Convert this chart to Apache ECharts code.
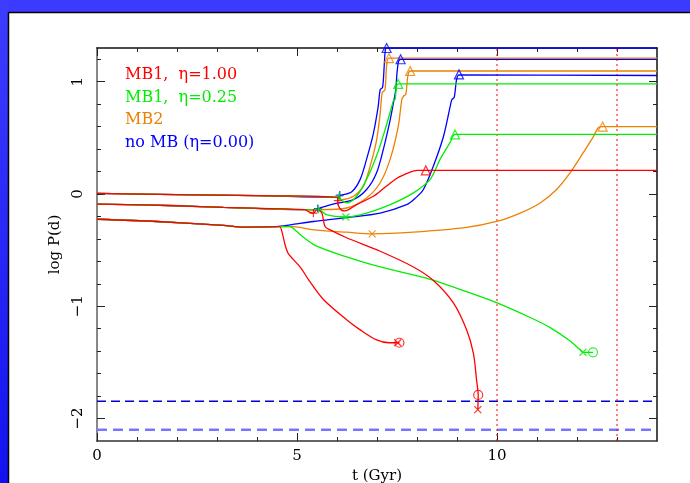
<!DOCTYPE html>
<html><head><meta charset="utf-8">
<script src="https://cdn.jsdelivr.net/npm/echarts@6/dist/echarts.min.js"></script>
<style>html,body{margin:0;padding:0;background:#fff}#c{width:690px;height:483px}</style>
</head><body><div id="c"></div>
<script>
// ---- data: [t (Gyr), log P(d)] ----
const baseTop = [[0,0.005],[2,-0.005],[4,-0.015],[6.0,-0.03]];
const baseMid = [[0,-0.09],[2,-0.105],[3.16,-0.12],[5.2,-0.14]];
const baseBot = [[0,-0.225],[1.5,-0.245],[3.16,-0.28],[3.66,-0.295],[4.5,-0.29]];

const blueTop = [[6.08,-0.015],[6.37,0.02],[6.58,0.13],[6.74,0.31],[6.91,0.54],[7.03,0.78],[7.08,0.93],[7.14,0.95],[7.18,1.14],[7.21,1.29],[7.24,1.30],[14,1.30]];
const orangeTop = [[6.12,-0.05],[6.41,-0.02],[6.66,0.07],[6.83,0.25],[6.99,0.48],[7.08,0.72],[7.13,0.90],[7.2,0.93],[7.24,1.14],[7.3,1.21],[14,1.21]];
const greenTop = [[6.24,-0.08],[6.49,-0.02],[6.74,0.13],[6.99,0.34],[7.2,0.57],[7.37,0.78],[7.41,0.83],[7.45,0.84],[7.49,0.96],[7.53,0.98],[14,0.98]];
const redTop = [[6.03,-0.10],[6.12,-0.146],[6.2,-0.15],[6.49,-0.095],[6.91,-0.02],[7.2,0.06],[7.5,0.14],[7.8,0.19],[8.0,0.21],[8.22,0.21],[14,0.21]];

const blueMid = [[5.45,-0.14],[5.53,-0.13],[5.9,-0.09],[6.41,-0.05],[6.74,0.04],[6.99,0.19],[7.16,0.40],[7.33,0.66],[7.41,0.81],[7.47,0.93],[7.51,1.11],[7.59,1.20],[14,1.20]];
const orangeMid = [[5.45,-0.14],[5.6,-0.14],[6.24,-0.125],[6.74,-0.035],[7.08,0.10],[7.33,0.31],[7.53,0.60],[7.62,0.84],[7.66,0.87],[7.72,0.89],[7.77,1.05],[7.83,1.095],[14,1.095]];
const greenMid = [[5.45,-0.145],[5.53,-0.135],[5.74,-0.185],[6.22,-0.205],[6.74,-0.17],[7.33,-0.095],[7.91,0.01],[8.33,0.13],[8.58,0.31],[8.83,0.46],[8.95,0.53],[14,0.53]];
const redMid = [[5.3,-0.16],[5.41,-0.17],[5.5,-0.14],[5.62,-0.17],[5.7,-0.29],[5.83,-0.32],[6.24,-0.39],[7.08,-0.51],[7.91,-0.65],[8.41,-0.77],[8.91,-0.97],[9.24,-1.21],[9.41,-1.42],[9.49,-1.66],[9.53,-1.79],[9.52,-1.92]];

const blueBot = [[4.83,-0.275],[5.41,-0.245],[6.24,-0.21],[7.08,-0.17],[7.74,-0.095],[7.95,-0.04],[8.16,0.04],[8.41,0.25],[8.66,0.51],[8.83,0.78],[8.87,0.84],[8.93,0.86],[8.99,1.02],[9.05,1.06],[14,1.055]];
const orangeBot = [[4.91,-0.29],[5.41,-0.32],[6.24,-0.34],[6.88,-0.355],[7.91,-0.34],[9.2,-0.30],[9.99,-0.245],[10.58,-0.17],[11.08,-0.08],[11.49,0.04],[11.83,0.19],[12.16,0.37],[12.41,0.51],[12.53,0.59],[12.64,0.60],[14,0.60]];
const greenBot = [[4.7,-0.29],[4.83,-0.29],[4.98,-0.33],[5.16,-0.385],[5.49,-0.465],[6.24,-0.56],[7.08,-0.65],[8.33,-0.76],[9.24,-0.87],[10.0,-0.97],[10.83,-1.10],[11.33,-1.19],[11.83,-1.31],[12.08,-1.39],[12.15,-1.41],[12.4,-1.41]];
const redBot = [[4.57,-0.29],[4.64,-0.36],[4.70,-0.45],[4.78,-0.53],[4.9,-0.58],[5.1,-0.66],[5.3,-0.77],[5.66,-0.94],[6.24,-1.12],[6.58,-1.21],[6.99,-1.30],[7.3,-1.325],[7.56,-1.325]];

// markers
const triBlue = [[7.24,1.30],[7.59,1.20],[9.05,1.065]];
const triOrange = [[7.30,1.21],[7.83,1.095],[12.64,0.60]];
const triGreen = [[7.53,0.98],[8.95,0.53]];
const triRed = [[8.22,0.21]];
const circRed = [[7.56,-1.325],[9.53,-1.79]];
const circGreen = [[12.4,-1.41]];
const crossRed = [[7.52,-1.325],[9.52,-1.92]];
const crossGreen = [[6.22,-0.205],[12.15,-1.41]];
const crossOrange = [[6.88,-0.355]];
const plusRed = [[5.41,-0.17],[6.02,-0.06]];
const plusBlue = [[5.52,-0.13],[6.07,-0.01]];
const plusGreen = [[5.54,-0.135],[6.05,-0.02]];
const barMark = [[3.66,-0.295]];

// reference lines
const dashDark = [[0,-1.846],[14,-1.846]];
const dashLight = [[0,-2.10],[14,-2.10]];
const vLine10 = [[10,-2.2],[10,1.3]];
const vLine13 = [[13,-2.2],[13,1.3]];

// axes ticks
const xMajor = [0,5,10];
const xMinor = [1,2,3,4,6,7,8,9,11,12,13];
const yMajor = [-2,-1,0,1];
const yMinor = [-1.8,-1.6,-1.4,-1.2,-0.8,-0.6,-0.4,-0.2,0.2,0.4,0.6,0.8,1.2];

const legendItems = ['MB1,  η=1.00','MB1,  η=0.25','MB2','no MB (η=0.00)'];

const RED='#ff0000', GREEN='#00ee00', ORANGE='#ee8000', BLUE='#0000ff';
const FONT='DejaVu Serif';

function line(data,color,w,type,smooth){
  return {type:'line',data:data,symbol:'none',silent:true,animation:false,smooth:smooth||false,
    lineStyle:{color:color,width:w||1.3,type:type||'solid'},z:2};
}
function marks(data,color,symbol,size,bw){
  return {type:'scatter',data:data,symbol:symbol,symbolSize:size,silent:true,animation:false,
    itemStyle:{color:'rgba(0,0,0,0)',borderColor:color,borderWidth:bw||1.2},z:5};
}
const X_PATH='path://M0,0L10,10M10,0L0,10';
const P_PATH='path://M5,0L5,10M0,5L10,5';
const B_PATH='path://M5,0L5,10';
const S=0.3;

const series = [
  line(dashLight,'#7878ff',2.5,[10,6]),
  line(dashDark,'#0000d0',1.3,[9,5]),
  line(vLine10,RED,1,[2,3]),
  line(vLine13,RED,1,[2,3]),
  line(baseTop.concat(blueTop),BLUE,1.3,null,S),
  line(baseMid.concat(blueMid),BLUE,1.3,null,S),
  line(baseBot.concat(blueBot),BLUE,1.3,null,S),
  line(baseTop.concat(orangeTop),ORANGE,1.3,null,S),
  line(baseMid.concat(orangeMid),ORANGE,1.3,null,S),
  line(baseBot.concat(orangeBot),ORANGE,1.3,null,S),
  line(baseTop.concat(greenTop),GREEN,1.3,null,S),
  line(baseMid.concat(greenMid),GREEN,1.3,null,S),
  line(baseBot.concat(greenBot),GREEN,1.3,null,S),
  line(baseTop.concat(redTop),RED,1.3,null,S),
  line(baseMid.concat(redMid),RED,1.3,null,S),
  line(baseBot.concat(redBot),RED,1.3,null,S),
  marks(triBlue,BLUE,'triangle',9),
  marks(triOrange,ORANGE,'triangle',9),
  marks(triGreen,GREEN,'triangle',9),
  marks(triRed,RED,'triangle',9),
  marks(circRed,RED,'circle',9),
  marks(circGreen,GREEN,'circle',9),
  marks(crossRed,RED,X_PATH,7),
  marks(crossGreen,GREEN,X_PATH,7),
  marks(crossOrange,ORANGE,X_PATH,7),
  marks(plusBlue,BLUE,P_PATH,8),
  marks(plusGreen,GREEN,P_PATH,8),
  marks(plusRed,RED,P_PATH,8),
  marks(barMark,'#7a3f6a',B_PATH,[2,10],2)
];

function xAx(pos,ticks,len,labels,lineColor){
  return {type:'value',min:0,max:14,position:pos,
    axisLine:{show:!!lineColor,onZero:false,lineStyle:{color:lineColor||'#000',width:1.5}},
    axisTick:{show:true,inside:true,length:len,customValues:ticks,lineStyle:{color:'#222',width:1}},
    axisLabel:{show:labels,customValues:ticks,margin:8,color:'#000',fontFamily:FONT,fontSize:15},
    splitLine:{show:false}};
}
function yAx(pos,ticks,len,labels,lineColor,lw){
  return {type:'value',min:-2.2,max:1.3,position:pos,
    axisLine:{show:!!lineColor,onZero:false,lineStyle:{color:lineColor||'#000',width:lw||1.5}},
    axisTick:{show:true,inside:true,length:len,customValues:ticks,lineStyle:{color:'#222',width:1}},
    axisLabel:{show:labels,customValues:ticks,rotate:90,margin:11,color:'#000',fontFamily:FONT,fontSize:15,
      formatter:function(v){return String(v).replace('-','\u2212');}},
    splitLine:{show:false}};
}

const xAxes = [xAx('bottom',xMajor,8,true,'#333'), xAx('bottom',xMinor,4,false,null),
               xAx('top',xMajor,8,false,'#111'), xAx('top',xMinor,4,false,null)];
xAxes[0].name='t (Gyr)'; xAxes[0].nameLocation='middle'; xAxes[0].nameGap=19;
xAxes[0].nameTextStyle={color:'#000',fontFamily:FONT,fontSize:15};
const yAxes = [yAx('left',yMajor,8,true,'#888',2), yAx('left',yMinor,4,false,null),
               yAx('right',yMajor,8,false,'#111'), yAx('right',yMinor,4,false,null)];
yAxes[0].name='log P(d)'; yAxes[0].nameLocation='middle'; yAxes[0].nameGap=28;
yAxes[0].nameTextStyle={color:'#000',fontFamily:FONT,fontSize:15};

const legendColors=[RED,GREEN,ORANGE,BLUE];
const graphics = [
  {type:'rect',shape:{x:0,y:0,width:690,height:12},style:{fill:'#3b3bff'},silent:true},
  {type:'rect',shape:{x:0,y:0,width:8,height:483},silent:true,
    style:{fill:new echarts.graphic.LinearGradient(0,0,0,1,[{offset:0,color:'#3d3dff'},{offset:1,color:'#1212f0'}])}},
  {type:'line',shape:{x1:8,y1:12.5,x2:690,y2:12.5},style:{stroke:'#000',lineWidth:1.5},silent:true},
  {type:'line',shape:{x1:8.5,y1:12,x2:8.5,y2:483},style:{stroke:'#000',lineWidth:1.5},silent:true}
];
legendItems.forEach(function(t,i){
  graphics.push({type:'text',left:125,top:67+i*22.5,silent:true,
    style:{text:t,fill:legendColors[i],font:'16px "'+FONT+'"'}});
});

const chart = echarts.init(document.getElementById('c'),null,{renderer:'canvas'});
chart.setOption({
  backgroundColor:'#fff',
  animation:false,
  grid:{left:97,right:33,top:48,bottom:42,containLabel:false,outerBoundsMode:'none'},
  xAxis:xAxes.map(function(a){a.gridIndex=0;return a;}),
  yAxis:yAxes.map(function(a){a.gridIndex=0;return a;}),
  graphic:graphics,
  series:series.map(function(s){s.xAxisIndex=0;s.yAxisIndex=0;return s;})
});
</script></body></html>
